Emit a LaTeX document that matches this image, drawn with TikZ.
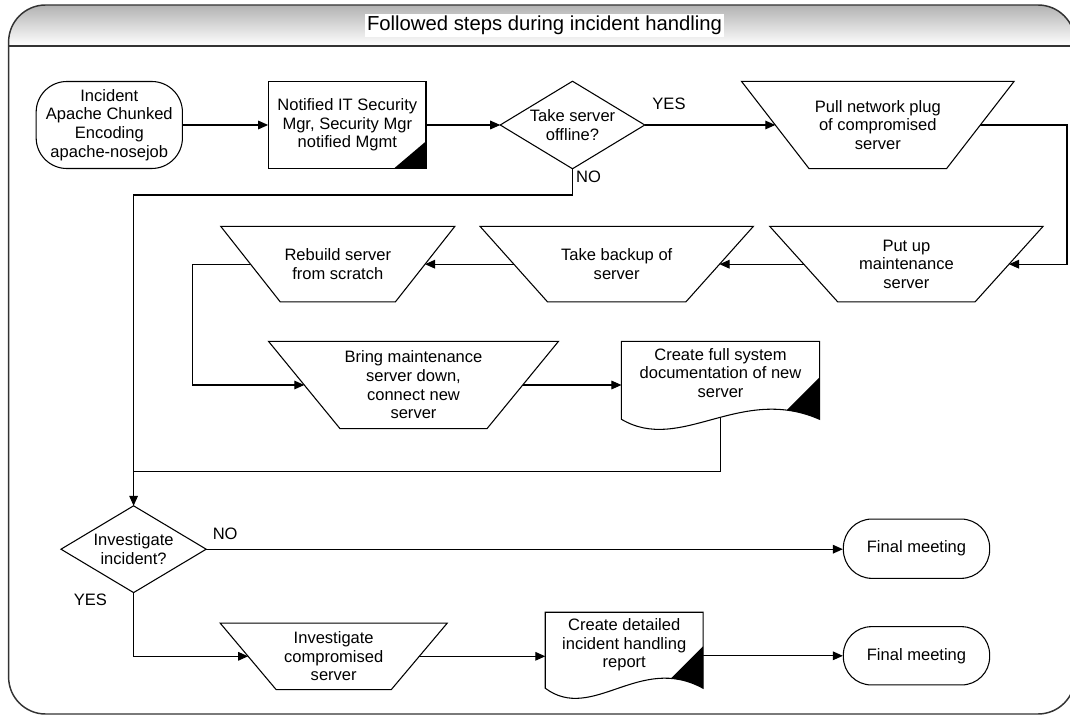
\documentclass[tikz,border=0pt]{standalone}
\usepackage{fontspec}
\setmainfont{Liberation Sans}
\usetikzlibrary{calc,arrows.meta}
\pgfdeclarelayer{back}
\pgfdeclarelayer{conn}
\pgfdeclarelayer{shapes}
\pgfsetlayers{back,conn,shapes,main}

\tikzset{
  shp/.style={draw=black, line width=0.8pt, fill=white, line join=miter},
  txt/.style={inner sep=0pt, align=center, font=\fontsize{12.4pt}{14pt}\selectfont},
  nbox/.style 2 args={txt, minimum width=#1, minimum height=#2},
  term/.style={draw=black, line width=0.8pt, fill=white},
  connl/.style={draw=black, line width=0.8pt},
  arr/.style={connl, -{Triangle[length=7.5pt,width=6.5pt]}},
  lbl/.style={inner sep=0pt, font=\fontsize{12.4pt}{14pt}\selectfont},
  framest/.style={draw=black!80, line width=1.1pt},
}

\newcommand\trapshape[2]{%
  \begin{pgfonlayer}{shapes}
  \draw[shp] (#1.north west) -- (#1.north east) -- ($(#1.south east)+(-#2,0)$) -- ($(#1.south west)+(#2,0)$) -- cycle;
  \end{pgfonlayer}
  \coordinate (#1L) at ($(#1.west)+(#2/2,0)$);
  \coordinate (#1R) at ($(#1.east)+(-#2/2,0)$);
}
\newcommand\diashape[1]{%
  \begin{pgfonlayer}{shapes}
  \draw[shp] (#1.west) -- (#1.north) -- (#1.east) -- (#1.south) -- cycle;
  \end{pgfonlayer}
}
\newcommand\docshape[3]{%
  \coordinate (#1BL) at ($(#1.south west)+(0,#2)$);
  \coordinate (#1BR) at ($(#1.south east)+(0,#2)$);
  \begin{pgfonlayer}{shapes}
  \fill[white] (#1.north west) -- (#1.north east) -- (#1BR) .. controls ($(#1BL)+(0.6*#3,-35)$) and ($(#1BL)+(0.3*#3,35)$) .. (#1BL) -- cycle;
  \begin{scope}
    \clip (#1.north west) -- (#1.north east) -- (#1BR) .. controls ($(#1BL)+(0.6*#3,-35)$) and ($(#1BL)+(0.3*#3,35)$) .. (#1BL) -- cycle;
    \fill[black] ($(#1BR)+(0,-42)$) -- ($(#1BR)+(-62,20)$) -- ($(#1BR)+(0,20)$) -- cycle;
  \end{scope}
  \draw[shp, fill=none] (#1.north west) -- (#1.north east) -- (#1BR) .. controls ($(#1BL)+(0.6*#3,-35)$) and ($(#1BL)+(0.3*#3,35)$) .. (#1BL) -- cycle;
  \end{pgfonlayer}
}

\begin{document}
\begin{tikzpicture}[x=0.75pt, y=-0.75pt]
\useasboundingbox (0,0) rectangle (1070,716);

% frame and title bar
\begin{pgfonlayer}{back}
  \fill[white] (0,0) rectangle (1070,716);
  \begin{scope}
    \clip[rounded corners=27.75pt] (8.6,5) rectangle (1075,714);
    \shade[top color=black!30, bottom color=white] (8.6,5) rectangle (1075,46);
  \end{scope}
  \draw[framest, rounded corners=27.75pt] (8.6,5) rectangle (1075,714);
  \draw[framest] (8.6,46) -- (1075,46);
\end{pgfonlayer}
\node[fill=white, inner xsep=1.5pt, inner ysep=1.5pt, font=\fontsize{15.2pt}{18pt}\selectfont] (title) at (544.5,25.5) {Followed steps during incident handling};

% row 1
\node[nbox={109.7pt}{65.25pt}, term, rounded corners=23pt] (inc) at (109.3,125) {Incident\\Apache Chunked\\Encoding\\apache-nosejob};
\node[nbox={118pt}{65pt}, term] (notif) at (347.3,125) {Notified IT Security\\Mgr, Security Mgr\\notified Mgmt};
\fill[black] ($(notif.south east)+(-33,0)$) -- (notif.south east) -- ($(notif.south east)+(0,-28)$) -- cycle;
\node[nbox={108pt}{65.25pt}] (dia1) at (572.5,125) {Take server\\offline?};
\diashape{dia1}
\node[nbox={204pt}{65pt}] (pull) at (877.8,125) {Pull network plug\\of compromised\\server};
\trapshape{pull}{67.5}

% row 2
\node[nbox={204.5pt}{56.25pt}] (putup) at (906.4,264.2) {Put up\\maintenance\\server};
\trapshape{putup}{68}
\node[nbox={204.5pt}{56.25pt}] (backup) at (616.7,264.2) {Take backup of\\server};
\trapshape{backup}{67.5}
\node[nbox={175.1pt}{56.25pt}] (rebuild) at (337.8,264.2) {Rebuild server\\from scratch};
\trapshape{rebuild}{59.5}

% row 2b
\node[nbox={217pt}{65pt}] (bring) at (413.5,385) {Bring maintenance\\server down,\\connect new\\server};
\trapshape{bring}{71.4}
\node[nbox={148.2pt}{47pt}] (cfull) at (720.5,373) {Create full system\\documentation of new\\server};
\docshape{cfull}{14.7}{197.6}

% row 3
\node[nbox={108.5pt}{64.7pt}] (dia2) at (133.6,549.2) {Investigate\\incident?};
\diashape{dia2}
\node[nbox={109.7pt}{44.5pt}, term, rounded corners=21.5pt] (fin1) at (916.5,548.7) {Final meeting};

% row 4
\node[nbox={170pt}{49.5pt}] (invc) at (333.7,656.3) {Investigate\\compromised\\server};
\trapshape{invc}{56}
\node[nbox={118pt}{48.75pt}] (crep) at (624.2,645) {Create detailed\\incident handling\\report};
\docshape{crep}{10.5}{157.4}
\node[nbox={109.7pt}{43.7pt}, term, rounded corners=21pt] (fin2) at (916.5,655.8) {Final meeting};

% labels
\node[lbl] (yes1) at (669,104) {YES};
\node[lbl] (no1) at (588.5,177) {NO};
\node[lbl] (no2) at (225.2,534.3) {NO};
\node[lbl] (yes2) at (90.3,600) {YES};

% junction coordinates
\coordinate (jn1) at (133.6,195);
\coordinate (jn2) at (133.6,471.7);
\coordinate (jn3) at (192.7,320);
\coordinate (jn4) at (1067,200);

% connectors
\begin{pgfonlayer}{conn}
  \draw[arr] (inc.east) -- (notif.west);
  \draw[arr] (notif.east) -- (dia1.west);
  \draw[arr] (dia1.east) -- (pullL);
  \draw[arr] (pullR) -| (jn4) |- (putupR);
  \draw[arr] (putupL) -- (backupR);
  \draw[arr] (backupL) -- (rebuildR);
  \draw[arr] (rebuildL) -| (jn3) |- (bringL);
  \draw[arr] (bringR) -- (bringR -| cfull.west);
  \draw[connl] (cfull.south) |- (jn2);
  \draw[arr] (dia1.south) |- (jn1) -- (dia2.north);
  \draw[arr] (dia2.east) -- (dia2.east -| fin1.west);
  \draw[arr] (dia2.south) |- (invcL);
  \draw[arr] (invcR) -- (invcR -| crep.west);
  \draw[arr] (crep.east |- fin2.west) -- (fin2.west);
\end{pgfonlayer}
\end{tikzpicture}
\end{document}
